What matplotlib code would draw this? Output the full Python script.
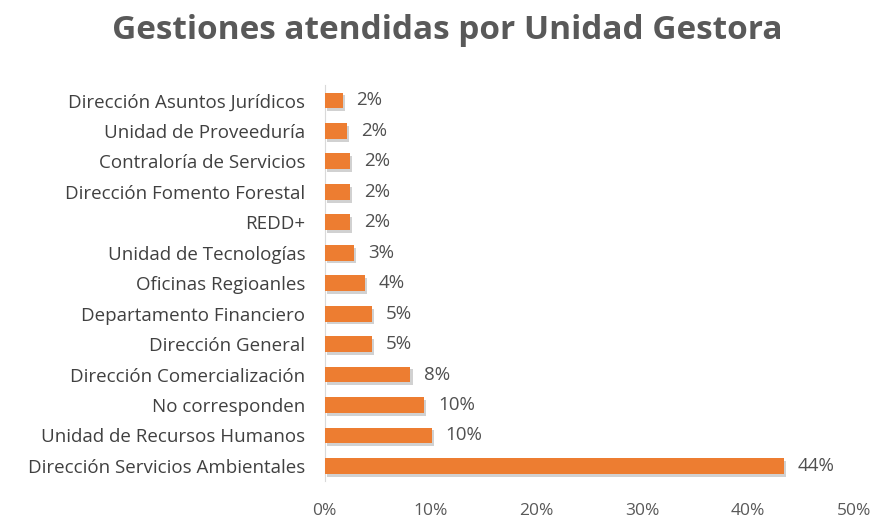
import matplotlib.pyplot as plt
import matplotlib.patheffects as pe
from matplotlib.ticker import FuncFormatter

# datos (de arriba hacia abajo en el grafico)
unidades = ['Dirección Asuntos Jurídicos', 'Unidad de Proveeduría', 'Contraloría de Servicios',
            'Dirección Fomento Forestal', 'REDD+', 'Unidad de Tecnologías', 'Oficinas Regioanles',
            'Departamento Financiero', 'Dirección General', 'Dirección Comercialización',
            'No corresponden', 'Unidad de Recursos Humanos', 'Dirección Servicios Ambientales']
porcentajes = [1.7, 2.1, 2.4, 2.4, 2.4, 2.8, 3.8, 4.5, 4.5, 8.1, 9.4, 10.1, 43.4]
etiquetas = ['2%', '2%', '2%', '2%', '2%', '3%', '4%', '5%', '5%', '8%', '10%', '10%', '44%']

plt.rcParams['font.family'] = ['Open Sans', 'DejaVu Sans']

fig = plt.figure(figsize=(8.73, 5.23), dpi=100)
ax = fig.add_axes([0.372, 0.080, 0.606, 0.757])

pos = list(range(len(unidades)))[::-1]
barras = ax.barh(pos, porcentajes, height=0.52, color='#ED7D31', zorder=3)
for b in barras:
    b.set_path_effects([pe.SimplePatchShadow(offset=(1.5, -2), shadow_rgbFace='#999999', alpha=0.45),
                        pe.Normal()])

for p, v, t in zip(pos, porcentajes, etiquetas):
    ax.text(v + 1.3, p, t, va='center', ha='left', fontsize=13.5, color='#505050')

ax.set_yticks(pos)
ax.set_yticklabels(unidades, fontsize=13.5, color='#404040')
ax.set_ylim(-0.5, len(unidades) - 0.5)
ax.set_xlim(0, 50)
ax.set_xticks([0, 10, 20, 30, 40, 50])
ax.xaxis.set_major_formatter(FuncFormatter(lambda x, _: '%d%%' % x))
ax.tick_params(axis='x', labelsize=12.5, colors='#595959', length=0, pad=16)
ax.tick_params(axis='y', length=0, pad=14)

for s in ['top', 'right', 'bottom']:
    ax.spines[s].set_visible(False)
ax.spines['left'].set_color('#D9D9D9')

fig.suptitle('Gestiones atendidas por Unidad Gestora', x=0.512, y=0.973,
             fontsize=24, fontweight='bold', color='#595959')

plt.savefig('out.png', dpi=100)
